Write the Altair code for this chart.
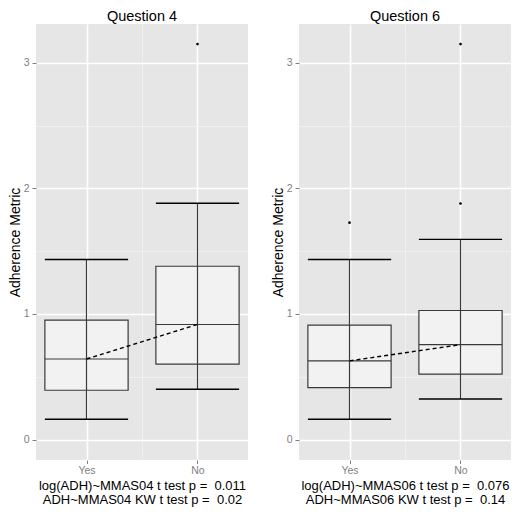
import altair as alt
import pandas as pd

# ---- data ----
categories = ["Yes", "No"]
panel_titles = ["Question 4", "Question 6"]
captions = [
    ["log(ADH)~MMAS04 t test p = \u00a00.011", "ADH~MMAS04 KW t test p = \u00a00.02"],
    ["log(ADH)~MMAS06 t test p = \u00a00.076", "ADH~MMAS06 KW t test p = \u00a00.14"],
]

q4_lower = [0.162, 0.401]
q4_q1 = [0.393, 0.601]
q4_median = [0.642, 0.917]
q4_q3 = [0.951, 1.380]
q4_upper = [1.434, 1.881]
q4_out_cat = ["No"]
q4_out_val = [3.148]

q6_lower = [0.162, 0.324]
q6_q1 = [0.414, 0.522]
q6_median = [0.627, 0.756]
q6_q3 = [0.912, 1.028]
q6_upper = [1.434, 1.594]
q6_out_cat = ["Yes", "No", "No"]
q6_out_val = [1.727, 3.148, 1.879]

FONT = "Liberation Sans"
GREY = "#7F7F7F"
LINE = "#3A3A3A"
MINOR = "datum.value % 1 != 0"
XMINOR = "datum.value == 1.5"
HALF = 0.375
XIDX = "indexof(['Yes','No'], datum.cat) + 1"
H = 436


def xenc(field, caption):
    return alt.X(
        f"{field}:Q",
        scale=alt.Scale(domain=[0.545, 2.455], nice=False, zero=False),
        axis=alt.Axis(
            values=[1, 1.5, 2],
            labelExpr="datum.value == 1 ? 'Yes' : (datum.value == 2 ? 'No' : '')",
            title=caption,
            titleFontSize=13,
            titleFontWeight="normal",
            titleColor="black",
            titleLineHeight=14.5,
            titlePadding=3,
            labelColor=GREY,
            labelFontSize=10.5,
            labelPadding=2,
            tickSize=3.5,
            tickColor={"condition": {"test": XMINOR, "value": "rgba(0,0,0,0)"}, "value": GREY},
            domain=False,
            grid=True,
            gridColor={"condition": {"test": XMINOR, "value": "#F2F2F2"}, "value": "white"},
            gridWidth={"condition": {"test": XMINOR, "value": 0.8}, "value": 1.6},
        ),
    )


def yenc(field):
    return alt.Y(
        f"{field}:Q",
        scale=alt.Scale(domain=[-0.162, 3.308], nice=False, zero=False),
        axis=alt.Axis(
            values=[0, 0.5, 1, 1.5, 2, 2.5, 3],
            labelExpr="datum.value % 1 == 0 ? format(datum.value, 'd') : ''",
            title="Adherence Metric",
            titleFontSize=14,
            titleFontWeight="normal",
            titleColor="black",
            titlePadding=1,
            labelColor=GREY,
            labelFontSize=10.5,
            labelPadding=3,
            tickSize=4,
            tickColor={"condition": {"test": MINOR, "value": "rgba(0,0,0,0)"}, "value": GREY},
            domain=False,
            grid=True,
            gridColor={"condition": {"test": MINOR, "value": "#F2F2F2"}, "value": "white"},
            gridWidth={"condition": {"test": MINOR, "value": 0.8}, "value": 1.6},
        ),
    )


def panel(title, caption, lower, q1, med, q3, upper, out_cat, out_val, width):
    stats = pd.DataFrame({"cat": categories, "lower": lower, "q1": q1,
                          "median": med, "q3": q3, "upper": upper})
    outs = pd.DataFrame({"cat": out_cat, "val": out_val})

    base = alt.Chart(stats).transform_calculate(
        xi=XIDX
    ).transform_calculate(
        xl=f"datum.xi - {HALF}", xr=f"datum.xi + {HALF}"
    )

    box = base.mark_rect(fill="#F2F2F2", stroke=LINE, strokeWidth=1.2).encode(
        x=xenc("xl", caption), x2="xr:Q", y=yenc("q1"), y2="q3:Q")
    whisk = base.mark_rule(color=LINE, strokeWidth=1.2).encode(
        x=xenc("xi", caption), y=yenc("lower"), y2="upper:Q")
    median = base.mark_rule(color=LINE, strokeWidth=1.1).encode(
        x=xenc("xl", caption), x2="xr:Q", y=yenc("median"))
    cap_lo = base.mark_rule(color="black", strokeWidth=1.4).encode(
        x=xenc("xl", caption), x2="xr:Q", y=yenc("lower"))
    cap_hi = base.mark_rule(color="black", strokeWidth=1.4).encode(
        x=xenc("xl", caption), x2="xr:Q", y=yenc("upper"))
    trend = base.mark_line(color="black", strokeDash=[4, 3], strokeWidth=1.4).encode(
        x=xenc("xi", caption), y=yenc("median"))
    points = alt.Chart(outs).transform_calculate(xi=XIDX).mark_circle(
        color="black", size=7, opacity=1).encode(
        x=xenc("xi", caption), y=yenc("val"))

    return alt.layer(box, whisk, median, cap_lo, cap_hi, trend, points).properties(
        width=width, height=H,
        title=alt.TitleParams(title, fontSize=14.5, fontWeight="normal",
                              color="black", anchor="middle", offset=0),
    )


left = panel(panel_titles[0], captions[0], q4_lower, q4_q1, q4_median, q4_q3,
             q4_upper, q4_out_cat, q4_out_val, 212)
right = panel(panel_titles[1], captions[1], q6_lower, q6_q1, q6_median, q6_q3,
              q6_upper, q6_out_cat, q6_out_val, 212)

chart = alt.hconcat(left, right, spacing=23).properties(
    padding=0, background="white"
).configure(font=FONT).configure_view(fill="#E6E6E6", strokeWidth=0)

chart.save("out.html", embed_options={"renderer": "svg", "actions": False})
